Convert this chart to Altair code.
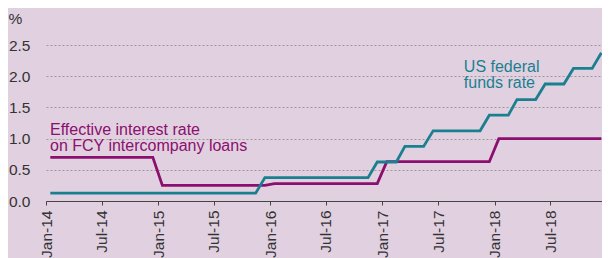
import altair as alt
import pandas as pd

month_labels = [d.strftime("%Y-%m-15") for d in pd.date_range("2014-01-01", "2018-12-01", freq="MS")]

# US federal funds rate (monthly), Jan-14 .. Dec-18
fed = ([0.125] * 23 + [0.375] * 12 + [0.625] * 3 + [0.875] * 3 + [1.125] * 6 +
       [1.375] * 3 + [1.625] * 3 + [1.875] * 3 + [2.125] * 3 + [2.375] * 1)
# Effective interest rate on FCY intercompany loans (monthly)
fcy = ([0.70] * 12 + [0.25] * 12 + [0.28] * 12 + [0.63] * 12 + [1.0] * 12)

series_names = ["Effective interest rate on FCY intercompany loans", "US federal funds rate"]
colors = ["#8A0F6E", "#1A8090"]

rows = []
for d, v in zip(month_labels, fcy):
    rows.append({"date": d, "value": v, "series": series_names[0]})
for d, v in zip(month_labels, fed):
    rows.append({"date": d, "value": v, "series": series_names[1]})
df = pd.DataFrame(rows)

label_text = ["Effective interest rate", "on FCY intercompany loans", "US federal", "funds rate"]
label_date = ["2014-01-14", "2014-01-14", "2017-09-23", "2017-09-23"]
label_value = [1.13, 0.88, 2.14, 1.89]
label_series = [series_names[0], series_names[0], series_names[1], series_names[1]]
labels = pd.DataFrame({"date": label_date, "value": label_value, "text": label_text,
                       "series": label_series})

tick_dates = [alt.DateTime(year=y, month=m, date=1) for y in range(2014, 2019) for m in (1, 7)]
y_ticks = [0, 0.5, 1, 1.5, 2, 2.5]

FONT = "Liberation Sans"

x = alt.X("date:T",
          scale=alt.Scale(domain=[alt.DateTime(year=2014, month=1, date=1),
                                  alt.DateTime(year=2018, month=12, date=17)]),
          axis=alt.Axis(values=tick_dates, format="%b-%y", labelAngle=-90, title=None,
                        grid=False, domainColor="#444444", tickColor="#444444",
                        tickSize=4, labelPadding=5, labelFontSize=15.5, labelFont=FONT,
                        labelColor="#333333", labelAlign="right", labelBaseline="middle",
                        labelOverlap=False))
y = alt.Y("value:Q",
          scale=alt.Scale(domain=[0, 2.5], nice=False),
          axis=alt.Axis(values=y_ticks, format=".1f", title="%",
                        titleAngle=0, titleX=-38, titleY=-22, titleAlign="left",
                        titleBaseline="alphabetic", titleFont=FONT, titleFontSize=15.5,
                        titleFontWeight="normal", titleColor="#333333",
                        domain=False, ticks=False, labelPadding=16, labelFontSize=15.5,
                        labelFont=FONT, labelColor="#333333", labelOverlap=False,
                        grid=True, gridDash=[2, 2], gridColor="#9a9a9a", gridWidth=1))

color = alt.Color("series:N", scale=alt.Scale(domain=series_names, range=colors), legend=None)

lines = alt.Chart(df).mark_line(strokeWidth=2.8, interpolate="linear").encode(
    x=x, y=y, color=color)

text = alt.Chart(labels).mark_text(align="left", baseline="middle", fontSize=16,
                                    font=FONT).encode(
    x=x, y=y, text="text:N", color=color)

chart = alt.layer(lines, text).properties(
    width=556, height=156,
    autosize=alt.AutoSizeParams(type="none"),
    padding={"left": 38, "top": 37, "right": 0, "bottom": 57},
    background="#E1D0E0",
).configure_view(stroke=None)

chart.save("out.html", embed_options={"renderer": "svg", "actions": False})
